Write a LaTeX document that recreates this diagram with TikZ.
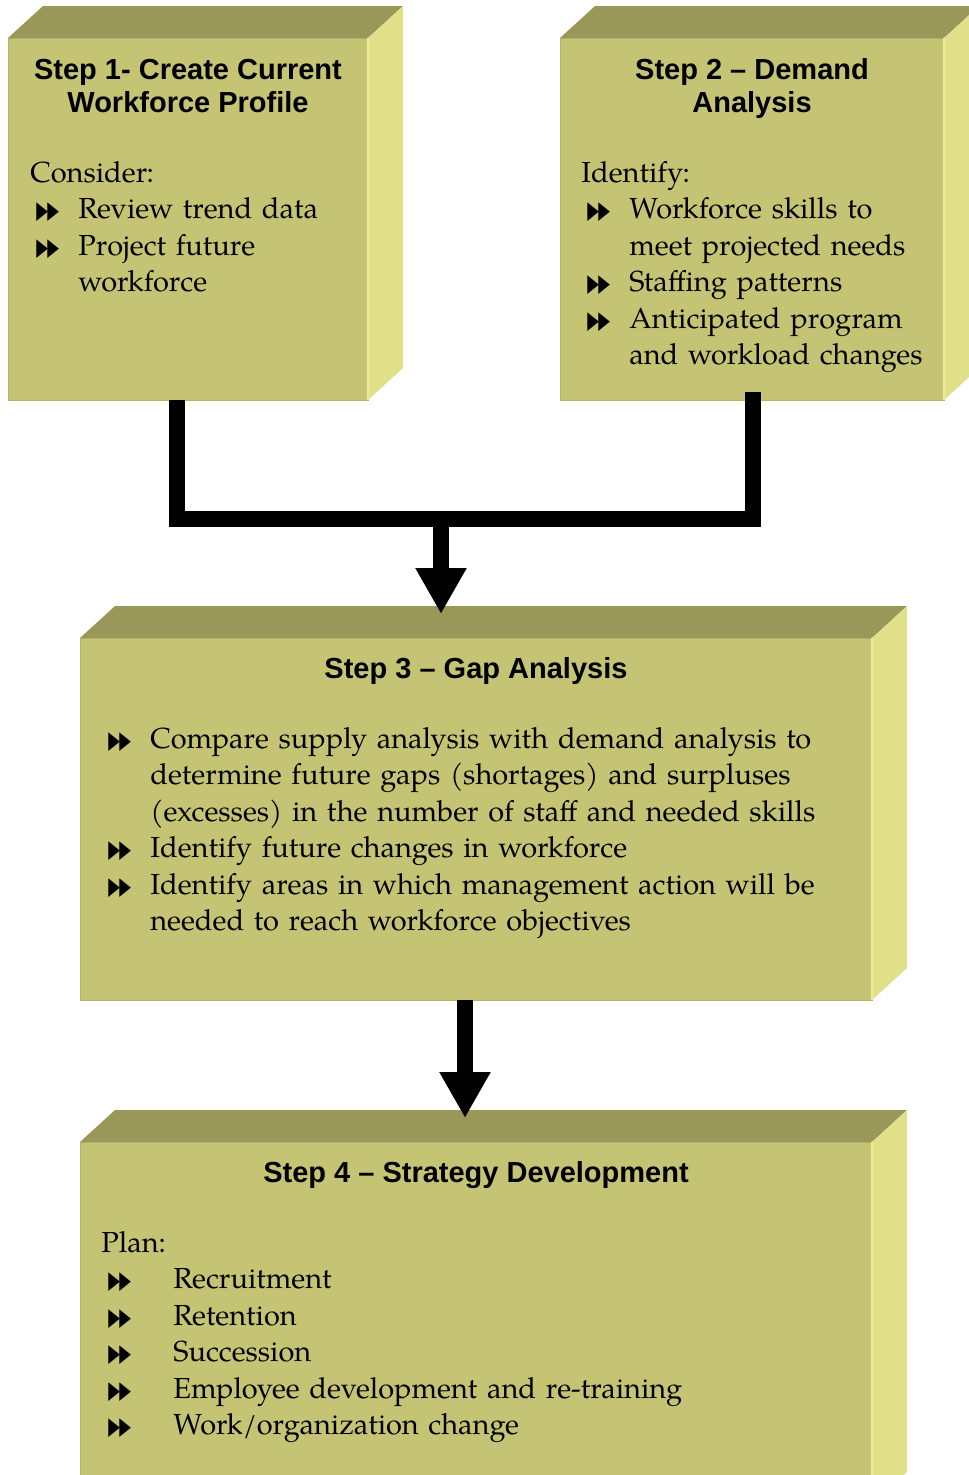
\documentclass[tikz,border=0pt]{standalone}
\usepackage{fontspec}
\usepackage{graphicx}
\setmainfont{TeX Gyre Pagella}[WordSpace=0.85]
\newfontfamily\headfont{Liberation Sans}
\newfontfamily\symfont{DejaVu Sans}
\usetikzlibrary{positioning,arrows.meta}
\definecolor{boxfront}{HTML}{C4C474}
\definecolor{boxtop}{HTML}{999858}
\definecolor{boxside}{HTML}{E0E088}
\definecolor{boxedge}{HTML}{B4B46A}
\definecolor{boxlight}{HTML}{ECEC90}
\newcommand{\tri}{\scalebox{0.62}[1]{\fontsize{24.5}{24.5}\symfont ▶}}
\newcommand{\bul}{\tri\kern-0.5pt\tri}
\newcommand{\bl}[2]{\hspace*{#1}\makebox[#2][l]{\bul}}
\newcommand{\boxfaces}[1]{%
  \fill[boxtop] (#1.north west) -- ++(35,-32) -- ([shift={(35,-32)}]#1.north east) -- (#1.north east) -- cycle;
  \fill[boxside] (#1.north east) -- ++(35,-32) -- ([shift={(35,-32)}]#1.south east) -- (#1.south east) -- cycle;
  \draw[boxlight,line width=1.5pt] (#1.north east) -- (#1.south east);}

\begin{document}
\begin{tikzpicture}[x=1pt,y=-1pt,node distance=192pt,semithick]
\tikzstyle{stepbox}=[draw=boxedge,fill=boxfront,line width=1pt,inner sep=0pt,outer sep=0pt,minimum height=362pt]
\tikzstyle{steptitle}=[font=\headfont\bfseries\fontsize{29}{33}\selectfont,align=center,inner sep=0pt,anchor=base]
\tikzstyle{steptext}=[font=\fontsize{29}{36.5}\selectfont,text width=800pt,align=left,inner sep=0pt,anchor=base west]
\tikzstyle{conn}=[line width=16pt,line join=miter]
\clip (0,0) rectangle (969,1475);

\node[stepbox,minimum width=360pt,anchor=north west] (s1) at (8,38) {};
\node[stepbox,minimum width=384pt,right=of s1] (s2) {};
\node[stepbox,minimum width=792pt,anchor=north west] (s3) at (80,638) {};
\node[stepbox,minimum width=792pt,below=142pt of s3] (s4) {};
\boxfaces{s1}
\boxfaces{s2}
\boxfaces{s3}
\boxfaces{s4}

\node[steptitle] (t1) at ([yshift=-74pt]s1.north) {Step 1- Create Current\\Workforce Profile};
\node[steptext] (b1) at ([xshift=22pt,yshift=-144pt]s1.north west) {Consider:\\
  \bl{6pt}{42pt}Review trend data\\
  \bl{6pt}{42pt}Project future\\
  \hspace*{48pt}workforce};

\node[steptitle] (t2) at ([yshift=-74pt]s2.north) {Step 2 – Demand\\Analysis};
\node[steptext] (b2) at ([xshift=21pt,yshift=-144pt]s2.north west) {Identify:\\
  \bl{6pt}{42pt}Workforce skills to\\
  \hspace*{48pt}meet projected needs\\
  \bl{6pt}{42pt}Staffing patterns\\
  \bl{6pt}{42pt}Anticipated program\\
  \hspace*{48pt}and workload changes};

\node[steptitle] (t3) at ([yshift=-40pt]s3.north) {Step 3 – Gap Analysis};
\node[steptext] (b3) at ([xshift=28pt,yshift=-110pt]s3.north west) {%
  \bl{0pt}{42pt}Compare supply analysis with demand analysis to\\
  \hspace*{42pt}determine future gaps (shortages) and surpluses\\
  \hspace*{42pt}(excesses) in the number of staff and needed skills\\
  \bl{0pt}{42pt}Identify future changes in workforce\\
  \bl{0pt}{42pt}Identify areas in which management action will be\\
  \hspace*{42pt}needed to reach workforce objectives};

\node[steptitle] (t4) at ([yshift=-40pt]s4.north) {Step 4 – Strategy Development};
\node[steptext] (b4) at ([xshift=21pt,yshift=-110pt]s4.north west) {Plan:\\
  \bl{7pt}{65pt}Recruitment\\
  \bl{7pt}{65pt}Retention\\
  \bl{7pt}{65pt}Succession\\
  \bl{7pt}{65pt}Employee development and re-training\\
  \bl{7pt}{65pt}Work/organization change};

\coordinate (join) at (441,519);
\coordinate (tip3) at (441,614);
\coordinate (tip4) at (465,1118);
\draw[conn] ([xshift=-11pt]s1.south) |- (join) -| ([xshift=1pt,yshift=8pt]s2.south);
\draw[conn,-{Triangle[width=48pt,length=46pt]}] (join) -- (tip3);
\draw[conn,-{Triangle[width=48pt,length=46pt]}] (s3.south -| tip4) -- (tip4);
\end{tikzpicture}
\end{document}
